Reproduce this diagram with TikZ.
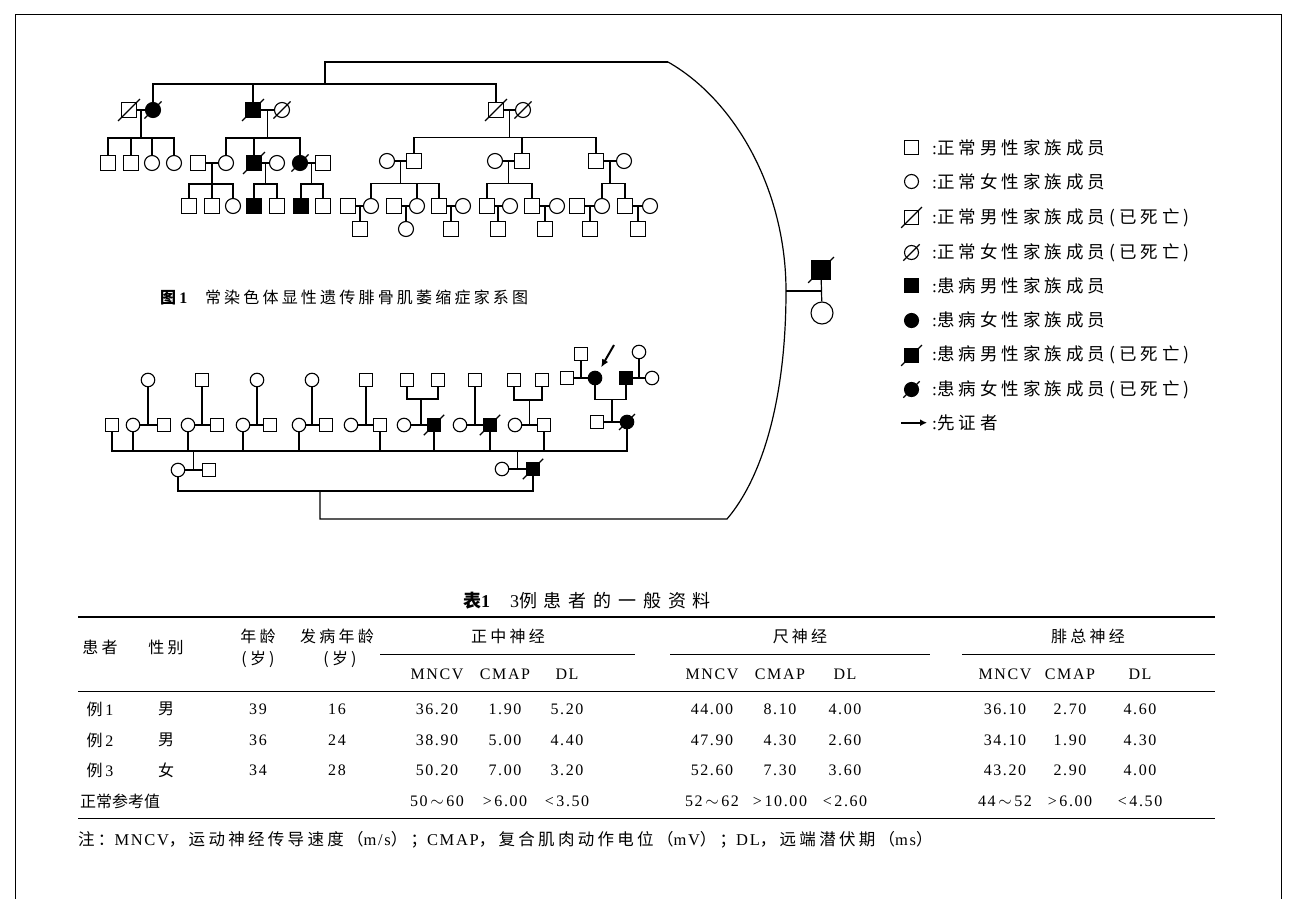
\documentclass[tikz,border=0pt]{standalone}
\usepackage{fontspec}
\setmainfont{Liberation Serif}[LetterSpace=10]
\newfontfamily\zh[LetterSpace=20]{Noto Sans CJK SC}
\newfontfamily\zhk[LetterSpace=23]{Noto Sans CJK SC}
\newfontfamily\zht[LetterSpace=38]{Noto Sans CJK SC}
\newfontfamily\zhn{Noto Sans CJK SC}
\usetikzlibrary{arrows.meta,calc,positioning}

\begin{document}
\begin{tikzpicture}[x=1pt, y=-1pt,
  person/.style={draw, line width=1.1, inner sep=0, minimum size=15, fill=white},
  male/.style={person, rectangle},
  female/.style={person, circle},
  sick/.style={fill=black},
  kid/.style={to path={-| (\tikztotarget)}},
  slash/.style={line width=1.1, shorten <=-4, shorten >=-4},
  cell/.style={font=\fontsize{16}{18}\selectfont, inner sep=0},
  key/.style={font=\fontsize{17.5}{19}\selectfont, inner sep=0, anchor=west}
]
\useasboundingbox (0,0) rectangle (1295,899);
\draw[line width=1] (15,899) -- (15,15) -- (1281,15) -- (1281,899);

% ---------- upper pedigree ----------
\begin{scope}[line width=1.2]
  \node[male] (a1) at (129,110) {};
  \node[female,sick] (a2) at (153,110) {};
  \node[male,sick] (b1) at (253,110) {};
  \node[female] (b2) at (282,110) {};
  \node[male] (c1) at (496,110) {};
  \node[female] (c2) at (523,110) {};

  \node[male] (a3) at (108,163) {};
  \node[male] (a4) at (131,163) {};
  \node[female] (a5) at (152,163) {};
  \node[female] (a6) at (174,163) {};
  \node[male] (b3) at (198,163) {};
  \node[female] (b4) at (226,163) {};
  \node[male,sick] (b5) at (254,163) {};
  \node[female] (b6) at (277,163) {};
  \node[female,sick] (b7) at (300,163) {};
  \node[male] (b8) at (323,163) {};
  \node[female] (c3) at (387,161) {};
  \node[male] (c4) at (414,161) {};
  \node[female] (c5) at (495,161) {};
  \node[male] (c6) at (522,161) {};
  \node[male] (c7) at (596,161) {};
  \node[female] (c8) at (624,161) {};

  \node[male] (b9) at (189,206) {};
  \node[male] (b10) at (212,206) {};
  \node[female] (b11) at (233,206) {};
  \node[male,sick] (b12) at (254,206) {};
  \node[male] (b13) at (277,206) {};
  \node[male,sick] (b14) at (301,206) {};
  \node[male] (b15) at (323,206) {};
  \node[male] (c9) at (348,206) {};
  \node[female] (c10) at (371,206) {};
  \node[male] (c11) at (394,206) {};
  \node[female] (c12) at (417,206) {};
  \node[male] (c13) at (439,206) {};
  \node[female] (c14) at (463,206) {};
  \node[male] (c15) at (487,206) {};
  \node[female] (c16) at (510,206) {};
  \node[male] (c17) at (532,206) {};
  \node[female] (c18) at (557,206) {};
  \node[male] (c19) at (577,206) {};
  \node[female] (c20) at (602,206) {};
  \node[male] (c21) at (625,206) {};
  \node[female] (c22) at (650,206) {};

  \node[male] (c23) at (360,229) {};
  \node[female] (c24) at (406,229) {};
  \node[male] (c25) at (451,229) {};
  \node[male] (c26) at (498,229) {};
  \node[male] (c27) at (545,229) {};
  \node[male] (c28) at (590,229) {};
  \node[male] (c29) at (638,229) {};

  \foreach \p/\q in {a1/a2,b1/b2,c1/c2,b3/b4,b5/b6,b7/b8,c3/c4,c5/c6,c7/c8,
      c9/c10,c11/c12,c13/c14,c15/c16,c17/c18,c19/c20,c21/c22}
    \draw (\p) -- (\q);

  \coordinate (sa) at (141,138);
  \coordinate (sb) at (267.5,138);
  \coordinate (sc) at (509.5,137.5);
  \coordinate (sb1) at (212,184);
  \coordinate (sb2) at (265.5,184);
  \coordinate (sb3) at (311.5,184);
  \coordinate (sc1) at (400.5,183.5);
  \coordinate (sc2) at (508.5,183.5);
  \coordinate (sc3) at (610,183.5);
  \foreach \s/\p in {sa/a1,sb/b1,sc/c1,sb1/b3,sb2/b5,sb3/b7,sc1/c3,sc2/c5,sc3/c7}
    \draw (\s |- \p) -- (\s);
  \path (sa) edge[kid] (a3) edge[kid] (a4) edge[kid] (a5) edge[kid] (a6)
        (sb) edge[kid] (b4) edge[kid] (b5) edge[kid] (b7)
        (sc) edge[kid] (c4) edge[kid] (c6) edge[kid] (c7)
        (sb1) edge[kid] (b9) edge[kid] (b10) edge[kid] (b11)
        (sb2) edge[kid] (b12) edge[kid] (b13)
        (sb3) edge[kid] (b14) edge[kid] (b15)
        (sc1) edge[kid] (c10) edge[kid] (c12) edge[kid] (c13)
        (sc2) edge[kid] (c15) edge[kid] (c17)
        (sc3) edge[kid] (c20) edge[kid] (c21);
  \foreach \p/\k in {c9/c23,c11/c24,c13/c25,c15/c26,c17/c27,c19/c28,c21/c29}
    \draw (\k |- \p) -- (\k);

  \coordinate (top) at (325,84);
  \coordinate (tl) at (325,62);
  \coordinate (tr) at (668,62);
  \path (top) edge[kid] (a2) edge[kid] (b1) edge[kid] (c1);
  \draw (top) -- (tl) -- (tr);

  \foreach \n in {a1,a2,b1,b2,c1,c2,b5,b7}
    \draw[slash] (\n.south west) -- (\n.north east);
\end{scope}

\node[font=\fontsize{16}{18}\selectfont, inner sep=0, anchor=west] (cap) at (160,297)
  {{\zh\bfseries 图}\textbf{1}\hspace{16pt}{\zh 常染色体显性遗传腓骨肌萎缩症家系图}};

% ---------- lower pedigree ----------
\begin{scope}[line width=1.2, person/.append style={minimum size=13.5}]
  \node[male] (d1) at (112,425) {};
  \node[female] (d2) at (133,425) {};
  \node[male] (d3) at (164,425) {};
  \node[female] (d4) at (188,425) {};
  \node[male] (d5) at (217,425) {};
  \node[female] (d6) at (243,425) {};
  \node[male] (d7) at (270,425) {};
  \node[female] (d8) at (299,425) {};
  \node[male] (d9) at (326,425) {};
  \node[female] (d10) at (351,425) {};
  \node[male] (d11) at (380,425) {};
  \node[female] (d12) at (404,425) {};
  \node[male,sick] (d13) at (434,425) {};
  \node[female] (d14) at (460,425) {};
  \node[male,sick] (d15) at (490,425) {};
  \node[female] (d16) at (515,425) {};
  \node[male] (d17) at (544,425) {};
  \node[male] (d18) at (597,422) {};
  \node[female,sick] (d19) at (627,422) {};

  \node[female] (e1) at (148,380) {};
  \node[male] (e2) at (202,380) {};
  \node[female] (e3) at (257,380) {};
  \node[female] (e4) at (312,380) {};
  \node[male] (e5) at (366,380) {};
  \node[male] (e6) at (407,380) {};
  \node[male] (e7) at (438,380) {};
  \node[male] (e8) at (475,380) {};
  \node[male] (e9) at (514,380) {};
  \node[male] (e10) at (542,380) {};

  \node[female,sick] (f1) at (595,378) {};
  \node[male,sick] (f2) at (626,378) {};
  \node[male] (f3) at (567,378) {};
  \node[male] (f4) at (581,354) {};
  \node[female] (f5) at (652,378) {};
  \node[female] (f6) at (639,352) {};

  \node[female] (g1) at (178,470) {};
  \node[male] (g2) at (209,470) {};
  \node[female] (g3) at (502,469) {};
  \node[male,sick] (g4) at (533,469) {};

  \foreach \p/\q in {d2/d3,d4/d5,d6/d7,d8/d9,d10/d11,d12/d13,d14/d15,d16/d17,
      d18/d19,f3/f1,f2/f5,g1/g2,g3/g4}
    \draw (\p) -- (\q);
  \foreach \t/\p in {e1/d2,e2/d4,e3/d6,e4/d8,e5/d10,e8/d14,f4/f3,f6/f2}
    \draw (\t) -- (\t |- \p);

  \coordinate (u1) at (421,399);
  \coordinate (u2) at (529.5,400);
  \coordinate (u3) at (612,399.5);
  \foreach \u/\p in {u1/d12,u2/d16,u3/d18}
    \draw (\u |- \p) -- (\u);
  \path (u1) edge[kid] (e6) edge[kid] (e7)
        (u2) edge[kid] (e9) edge[kid] (e10)
        (u3) edge[kid] (f1) edge[kid] (f2);

  \coordinate (ls) at (193.5,451);
  \coordinate (ls2) at (517.5,451);
  \draw (ls |- g1) -- (ls);
  \draw (ls2 |- g3) -- (ls2);
  \path (ls) edge[kid] (d1) edge[kid] (d2) edge[kid] (d4) edge[kid] (d6)
        edge[kid] (d8) edge[kid] (d11) edge[kid] (d13) edge[kid] (d15)
        edge[kid] (d17) edge[kid] (d19);

  \coordinate (pa) at (614,345);
  \draw[-{Latex[length=8,width=7]}, line width=2, shorten >=5] (pa) -- (f1);

  \coordinate (bot) at (320,491);
  \coordinate (bl) at (320,519);
  \coordinate (br) at (727,519);
  \coordinate (rc) at (786,291);
  \draw (g1) |- (bot) -| (g4);
  \draw (bot) -- (bl) -- (br) .. controls (762,478) and (786,400) .. (rc)
        .. controls (786,190) and (735,100) .. (tr);

  \foreach \n in {d13,d15,d19,g4}
    \draw[slash] (\n.south west) -- (\n.north east);

  % founder couple
  \node[male,sick,minimum size=19] (rm) at (821,270) {};
  \node[female,minimum size=22] (rf) at (822,313) {};
  \draw (rm) -- (rf);
  \draw (rc) -- (rc -| rm);
  \draw[slash] (rm.south west) -- (rm.north east);
\end{scope}

% ---------- legend ----------
\begin{scope}[line width=1.2, person/.append style={minimum size=14}]
  \node[male] (k1) at (911.5,147.5) {};
  \node[female] (k2) at (911.5,181.5) {};
  \node[male] (k3) at (911.5,217.5) {};
  \node[female] (k4) at (911.5,252.5) {};
  \node[male,sick] (k5) at (911.5,285.5) {};
  \node[female,sick] (k6) at (911.5,320.5) {};
  \node[male,sick] (k7) at (911.5,355.5) {};
  \node[female,sick] (k8) at (911.5,389.5) {};
  \foreach \n in {k3,k4,k7,k8}
    \draw[slash] (\n.south west) -- (\n.north east);
  \coordinate (v1) at (901,422.7);
  \coordinate (v2) at (927,422.7);
  \draw[-{Latex[length=7,width=7]}, line width=2] (v1) -- (v2);
\end{scope}
\foreach \y/\t [count=\j] in {147.7/正常男性家族成员, 181.7/正常女性家族成员,
    217.7/正常男性家族成员(已死亡), 252.7/正常女性家族成员(已死亡),
    285.7/患病男性家族成员, 320/患病女性家族成员,
    355/患病男性家族成员(已死亡), 389.3/患病女性家族成员(已死亡), 422.7/先证者}
  \node[key] (t\j) at (932,\y) {:{\zhk \t}};

% ---------- table ----------
\node[font=\fontsize{18}{20}\selectfont, inner sep=0, anchor=west] (title) at (463,601)
  {{\zhn\bfseries 表}\textbf{1}\hspace{18pt}3{\zht 例患者的一般资料}};
\draw[line width=1.6] (78,617) -- (1215,617);
\draw[line width=0.9] (380,654) -- (635,654) (670,654) -- (930,654) (962,654) -- (1215,654);
\draw[line width=0.9] (78,691) -- (1215,691);
\draw[line width=0.9] (78,818) -- (1215,818);

\node[cell] (h1) at (100,647) {\zh 患者};
\node[cell] (h2) at (166,647) {\zh 性别};
\node[cell] (h3) at (258,636) {\zh 年龄};
\node[cell] (h4) at (258,659) {\zh (岁)};
\node[cell] (h5) at (337,636) {\zh 发病年龄};
\node[cell] (h6) at (340,659) {\zh (岁)};
\node[cell] (h7) at (508,636) {\zh 正中神经};
\node[cell] (h8) at (800,636) {\zh 尺神经};
\node[cell] (h9) at (1088,636) {\zh 腓总神经};
\foreach \x/\t [count=\j] in {437/MNCV,505/CMAP,567/DL,712/MNCV,780/CMAP,845/DL,
    1005/MNCV,1070/CMAP,1140/DL}
  \node[cell] (m\j) at (\x,674) {\t};

\foreach \x/\t [count=\j] in {100/{{\zh 例}\,1},166/{\zh 男},258/39,337/16,437/36.20,
    505/1.90,567/5.20,712/44.00,780/8.10,845/4.00,1005/36.10,1070/2.70,1140/4.60}
  \node[cell] (one\j) at (\x,709) {\t};
\foreach \x/\t [count=\j] in {100/{{\zh 例}\,2},166/{\zh 男},258/36,337/24,437/38.90,
    505/5.00,567/4.40,712/47.90,780/4.30,845/2.60,1005/34.10,1070/1.90,1140/4.30}
  \node[cell] (two\j) at (\x,740) {\t};
\foreach \x/\t [count=\j] in {100/{{\zh 例}\,3},166/{\zh 女},258/34,337/28,437/50.20,
    505/7.00,567/3.20,712/52.60,780/7.30,845/3.60,1005/43.20,1070/2.90,1140/4.00}
  \node[cell] (three\j) at (\x,770) {\t};
\node[cell, anchor=west] (ref0) at (80,801) {\zhn 正常参考值};
\foreach \x/\t [count=\j] in {437/{50\,$\sim$\,60},505/{>\,6.00},567/{<\,3.50},
    712/{52\,$\sim$\,62},780/{>\,10.00},845/{<\,2.60},1005/{44\,$\sim$\,52},
    1070/{>\,6.00},1140/{<\,4.50}}
  \node[cell] (ref\j) at (\x,801) {\t};

\node[font=\fontsize{16.5}{18}\selectfont, inner sep=0, anchor=west] (note) at (78,840)
  {{\zh 注：}MNCV{\zh ，运动神经传导速度（}m/s{\zh ）；}CMAP{\zh ，复合肌肉动作电位（}mV{\zh ）；}DL{\zh ，远端潜伏期（}ms{\zh ）}};
\end{tikzpicture}
\end{document}
